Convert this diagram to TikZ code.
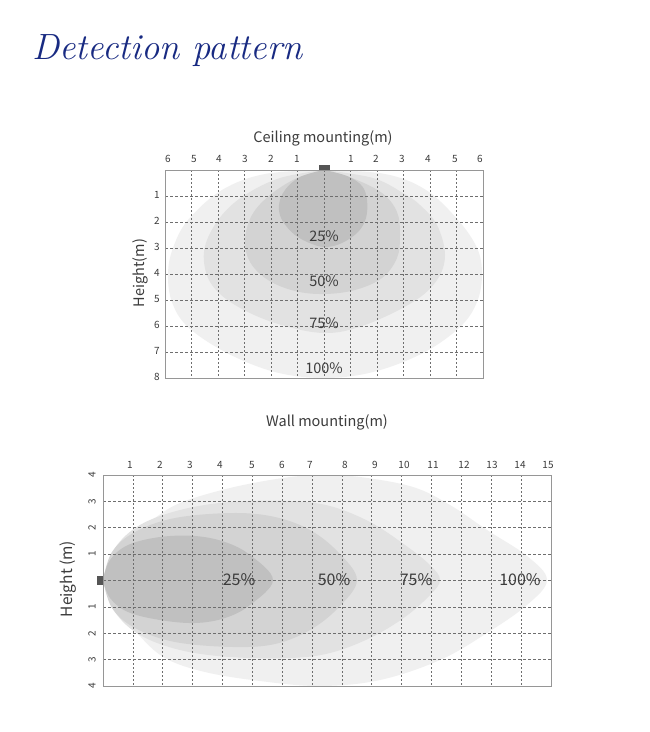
\documentclass[tikz,border=0pt]{standalone}
\usepackage{fontspec}
\newfontfamily\nsans{Noto Sans CJK SC}
\definecolor{titlec}{RGB}{24,42,130}
\definecolor{txtc}{RGB}{60,60,60}
\definecolor{gridc}{RGB}{110,110,110}
\definecolor{framec}{RGB}{150,150,150}
\definecolor{sensc}{RGB}{85,85,85}
\definecolor{cA}{RGB}{240,240,240}
\definecolor{cB}{RGB}{226,226,226}
\definecolor{cC}{RGB}{211,211,211}
\definecolor{cD}{RGB}{192,192,192}
\begin{document}
\begin{tikzpicture}[x=1pt,y=-1pt,
  gridh/.style={draw=gridc, line width=0.7pt, dash pattern=on 3pt off 2pt},
  gridv/.style={draw=gridc, line width=0.7pt, dash pattern=on 2pt off 2pt},
  frame/.style={draw=framec, line width=0.9pt},
  num/.style={font=\nsans\fontsize{10}{11}\selectfont, text=txtc, inner sep=0pt},
  lab/.style={font=\nsans\fontsize{14.5}{16}\selectfont, text=txtc, inner sep=0pt},
  pct/.style={font=\nsans\fontsize{14.5}{16}\selectfont, text=txtc, inner sep=0pt},
  pctb/.style={font=\nsans\fontsize{16}{18}\selectfont, text=txtc, inner sep=0pt},
  sensor/.style={fill=sensc, inner sep=0pt, draw=none},
  zone/.style={smooth, tension=0.6}
]
\useasboundingbox (0,0) rectangle (650,732);
\fill[white] (0,0) rectangle (650,732);

% Title
\node[font=\itshape\fontsize{36.5}{40}\selectfont, text=titlec, anchor=base west, inner sep=0pt] (title) at (32,59) {Detection pattern};

% ================= Ceiling mounting =================
\node[lab] (ctitle) at (323,138) {Ceiling mounting(m)};
\begin{scope}
\clip (165,170) rectangle (483,378);
\fill[cA] plot[zone] coordinates {(324,170) (265,174) (222,190) (188,220) (173,248) (168,274) (172,302) (188,327) (227,353) (275,372) (324,378) (373,372) (423,353) (460,327) (477,302) (482,274) (477,248) (458,220) (426,190) (385,174) (324,170)};
\fill[cB] plot[zone] coordinates {(324,170) (280,178) (245,195) (222,215) (207,240) (204,262) (212,285) (235,305) (275,323) (324,333) (365,325) (413,302) (437,280) (445,255) (437,225) (420,205) (403,193) (373,178) (324,170)};
\fill[cC] plot[zone] coordinates {(324,170) (297,178) (270,195) (252,215) (245,240) (250,262) (268,280) (295,291) (324,294) (355,290) (382,278) (397,258) (400,235) (397,212) (382,193) (352,178) (324,170)};
\fill[cD] plot[zone] coordinates {(324,170) (300,177) (285,190) (279,205) (282,220) (295,235) (312,244) (326,247) (342,243) (358,232) (366,218) (367,200) (362,186) (347,176) (324,170)};
\end{scope}
\foreach \i in {1,...,11} \draw[gridv] ({165+26.5*\i},170) -- ({165+26.5*\i},378);
\foreach \j in {1,...,7} \draw[gridh] (165,{170+26*\j}) -- (483,{170+26*\j});
\draw[frame] (165,170) rectangle (483,378);
\node[sensor, minimum width=11pt, minimum height=5pt] (s1) at (324.5,167.5) {};
% top numbers
\foreach \x/\t [count=\k] in {168/6,194/5,219/4,245/3,271/2,297/1,351/1,376/2,402/3,428/4,455/5,480/6}
  \node[num] (ct\k) at (\x,159) {\t};
\foreach \j in {1,...,7} \node[num] (cl\j) at (157,{168.5+26*\j}) {\j};
\node[num] (cl8) at (157,377) {8};
\node[lab, rotate=90] (cheight) at (140,273) {Height(m)};
\node[pct] (c25) at (324,236) {25\%};
\node[pct] (c50) at (324,281) {50\%};
\node[pct] (c75) at (324,323) {75\%};
\node[pct] (c100) at (324,368) {100\%};

% ================= Wall mounting =================
\node[lab] (wtitle) at (327,422) {Wall mounting(m)};
\begin{scope}
\clip (103,475) rectangle (551,686);
\fill[cA] plot[zone] coordinates {(103,580) (112,555) (131,535) (152,520) (180,503) (230,488) (283,478) (320,475) (360,477) (413,487) (450,505) (487,530) (527,556) (547,580) (527,605) (487,633) (440,660) (380,680) (320,686) (260,681) (205,672) (165,658) (138,634) (118,607) (103,580)};
\fill[cB] plot[zone] coordinates {(103,580) (115,548) (140,525) (180,510) (230,502) (290,501) (330,506) (370,522) (405,545) (430,565) (440,580) (430,595) (405,617) (370,638) (330,653) (290,658) (230,657) (180,650) (140,635) (115,612) (103,580)};
\fill[cC] plot[zone] coordinates {(103,580) (112,552) (135,532) (175,518) (233,513) (275,517) (310,530) (338,552) (357,580) (338,608) (310,630) (275,644) (233,647) (175,642) (135,628) (112,608) (103,580)};
\fill[cD] plot[zone] coordinates {(103,580) (110,560) (128,545) (160,537) (195,536) (225,542) (250,555) (273,580) (250,605) (225,618) (195,623) (160,620) (128,612) (110,598) (103,580)};
\end{scope}
\foreach \i in {1,...,14} \draw[gridv] ({103+29.87*\i},475) -- ({103+29.87*\i},686);
\foreach \j in {1,...,7} \draw[gridh] (103,{475+26.375*\j}) -- (551,{475+26.375*\j});
\draw[frame] (103,475) rectangle (551,686);
\node[sensor, minimum width=6pt, minimum height=9pt] (s2) at (100,580.5) {};
\foreach \x/\t [count=\k] in {130/1,160/2,190/3,220/4,252/5,282/6,310/7,345/8,375/9,404/10,433/11,464/12,492/13,520/14,548/15}
  \node[num] (wt\k) at (\x,465) {\t};
\foreach \j/\t in {0/4,1/3,2/2,3/1,5/1,6/2,7/3,8/4}
  \node[num, rotate=90] (wl\j) at (92,{475+26.375*\j}) {\t};
\node[lab, font=\nsans\fontsize{15.5}{17}\selectfont, rotate=90] (wheight) at (68,579) {Height (m)};
\node[pctb] (w25) at (239,580) {25\%};
\node[pctb] (w50) at (334,580) {50\%};
\node[pctb] (w75) at (416,580) {75\%};
\node[pctb] (w100) at (520,580) {100\%};
\end{tikzpicture}
\end{document}
